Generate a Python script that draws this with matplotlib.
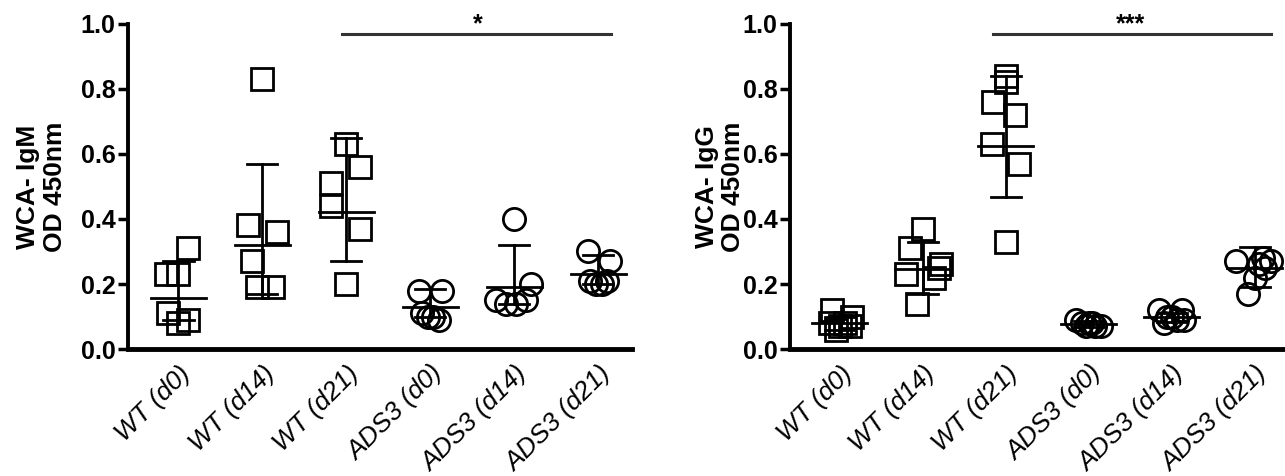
import numpy as np
import matplotlib
matplotlib.use('Agg')
import matplotlib.pyplot as plt

plt.rcParams['font.family'] = ['Liberation Sans', 'DejaVu Sans']

groups = ['WT (d0)', 'WT (d14)', 'WT (d21)', 'ADS3 (d0)', 'ADS3 (d14)', 'ADS3 (d21)']
markers = ['s', 's', 's', 'o', 'o', 'o']

# WCA-IgM, OD 450nm (left panel)
igm_values = [
    [0.31, 0.23, 0.23, 0.11, 0.09, 0.08],
    [0.83, 0.38, 0.36, 0.27, 0.19, 0.19],
    [0.63, 0.56, 0.51, 0.44, 0.37, 0.20],
    [0.18, 0.18, 0.11, 0.10, 0.10, 0.09],
    [0.40, 0.20, 0.15, 0.14, 0.14, 0.15],
    [0.30, 0.27, 0.21, 0.20, 0.20, 0.21],
]
igm_center = [0.158, 0.32, 0.42, 0.128, 0.19, 0.23]
igm_upper = [0.27, 0.57, 0.65, 0.185, 0.32, 0.29]
igm_lower = [0.09, 0.17, 0.27, 0.10, 0.14, 0.20]
igm_jitter = [
    [0.12, -0.15, 0.0, -0.12, 0.12, 0.0],
    [0.0, -0.17, 0.18, -0.12, -0.06, 0.13],
    [0.0, 0.16, -0.18, -0.18, 0.16, 0.0],
    [-0.13, 0.14, -0.1, -0.03, 0.03, 0.1],
    [0.0, 0.2, -0.22, -0.1, 0.02, 0.14],
    [-0.12, 0.14, -0.1, -0.03, 0.04, 0.1],
]

# WCA-IgG, OD 450nm (right panel)
igg_values = [
    [0.12, 0.10, 0.08, 0.07, 0.07, 0.06, 0.08],
    [0.37, 0.31, 0.26, 0.25, 0.23, 0.22, 0.14],
    [0.84, 0.82, 0.76, 0.72, 0.63, 0.57, 0.33],
    [0.09, 0.08, 0.08, 0.07, 0.07, 0.07, 0.08],
    [0.12, 0.12, 0.10, 0.09, 0.09, 0.10, 0.08],
    [0.27, 0.28, 0.27, 0.26, 0.25, 0.22, 0.17],
]
igg_center = [0.081, 0.245, 0.626, 0.076, 0.097, 0.25]
igg_upper = [0.10, 0.33, 0.84, 0.085, 0.112, 0.315]
igg_lower = [0.06, 0.17, 0.467, 0.067, 0.082, 0.19]
igg_jitter = [
    [-0.1, 0.15, -0.12, 0.0, 0.12, -0.05, 0.06],
    [0.0, -0.15, 0.22, 0.2, -0.2, 0.13, -0.07],
    [0.0, 0.0, -0.15, 0.11, -0.17, 0.16, 0.0],
    [-0.15, -0.08, 0.0, 0.08, 0.15, -0.04, 0.04],
    [-0.15, 0.12, -0.06, 0.06, 0.15, 0.0, -0.1],
    [-0.23, 0.1, 0.2, 0.05, 0.12, 0.0, -0.08],
]

panels = [
    ('WCA- IgM\nOD 450nm', igm_values, igm_center, igm_upper, igm_lower, igm_jitter,
     '*', (1.95, 5.15), 3.57, 10),
    ('WCA- IgG\nOD 450nm', igg_values, igg_center, igg_upper, igg_lower, igg_jitter,
     '***', (1.85, 5.2), 3.5, -2),
]

fig = plt.figure(figsize=(12.85, 4.76), dpi=100)
ax_left = fig.add_axes([0.0996, 0.2668, 0.3922, 0.6828])
ax_right = fig.add_axes([0.6148, 0.2668, 0.3876, 0.6828])

for ax, (ylab, values, center, upper, lower, jitter, stars, span, star_x, pad) in zip(
        [ax_left, ax_right], panels):
    for i, vals in enumerate(values):
        xs = i + np.array(jitter[i])
        ax.plot(xs, vals, ls='None', marker=markers[i], markersize=16,
                markerfacecolor='none', markeredgecolor='black', markeredgewidth=2,
                clip_on=False, zorder=3)
        # centre line and error bar
        ax.plot([i - 0.33, i + 0.33], [center[i], center[i]], color='black', lw=2, zorder=4)
        ax.plot([i, i], [lower[i], upper[i]], color='black', lw=2, zorder=4)
        ax.plot([i - 0.18, i + 0.18], [upper[i], upper[i]], color='black', lw=2, zorder=4)
        ax.plot([i - 0.18, i + 0.18], [lower[i], lower[i]], color='black', lw=2, zorder=4)

    # significance bar
    ax.plot(span, [0.969, 0.969], color='#333333', lw=2.2, clip_on=False)
    ax.text(star_x, 1.0, stars, ha='center', va='center', fontsize=18,
            fontweight='bold', clip_on=False)

    ax.set_xlim(-0.6, 5.4)
    ax.set_ylim(0, 1.0)
    ax.set_yticks([0.0, 0.2, 0.4, 0.6, 0.8, 1.0])
    ax.set_yticklabels(['0.0', '0.2', '0.4', '0.6', '0.8', '1.0'],
                       fontsize=18, fontweight='bold')
    ax.set_xticks(range(len(groups)))
    ax.set_xticklabels(groups, rotation=45, ha='right', rotation_mode='anchor',
                       fontsize=19, fontstyle='italic')
    ax.tick_params(axis='x', length=0, pad=9)
    ax.tick_params(axis='y', length=7, width=2.5, pad=2)
    ax.set_ylabel(ylab, fontsize=19, fontweight='bold', labelpad=pad, linespacing=1.15)
    for side in ['top', 'right']:
        ax.spines[side].set_visible(False)
    ax.spines['left'].set_linewidth(2.8)
    ax.spines['bottom'].set_linewidth(3.5)

fig.savefig('out.png', dpi=100)
